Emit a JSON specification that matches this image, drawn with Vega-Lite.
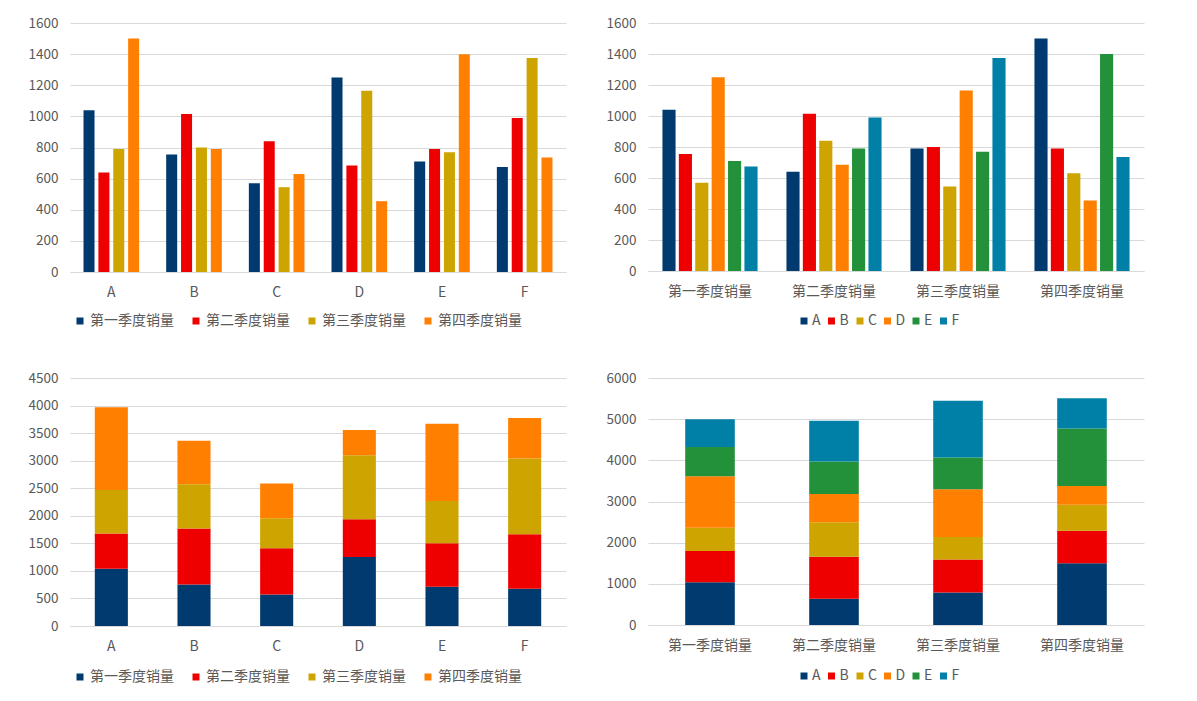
{
  "$schema": "https://vega.github.io/schema/vega-lite/v6.json",
  "background": "white",
  "padding": {"left": 28, "top": 16, "right": 20, "bottom": 10},
  "datasets": {
    "sales": [
      {"item": "A", "quarter": "第一季度销量", "sales": 1040},
      {"item": "A", "quarter": "第二季度销量", "sales": 640},
      {"item": "A", "quarter": "第三季度销量", "sales": 790},
      {"item": "A", "quarter": "第四季度销量", "sales": 1500},
      {"item": "B", "quarter": "第一季度销量", "sales": 755},
      {"item": "B", "quarter": "第二季度销量", "sales": 1015},
      {"item": "B", "quarter": "第三季度销量", "sales": 800},
      {"item": "B", "quarter": "第四季度销量", "sales": 790},
      {"item": "C", "quarter": "第一季度销量", "sales": 570},
      {"item": "C", "quarter": "第二季度销量", "sales": 840},
      {"item": "C", "quarter": "第三季度销量", "sales": 545},
      {"item": "C", "quarter": "第四季度销量", "sales": 630},
      {"item": "D", "quarter": "第一季度销量", "sales": 1250},
      {"item": "D", "quarter": "第二季度销量", "sales": 685},
      {"item": "D", "quarter": "第三季度销量", "sales": 1165},
      {"item": "D", "quarter": "第四季度销量", "sales": 455},
      {"item": "E", "quarter": "第一季度销量", "sales": 710},
      {"item": "E", "quarter": "第二季度销量", "sales": 790},
      {"item": "E", "quarter": "第三季度销量", "sales": 770},
      {"item": "E", "quarter": "第四季度销量", "sales": 1400},
      {"item": "F", "quarter": "第一季度销量", "sales": 675},
      {"item": "F", "quarter": "第二季度销量", "sales": 990},
      {"item": "F", "quarter": "第三季度销量", "sales": 1375},
      {"item": "F", "quarter": "第四季度销量", "sales": 735}
    ],
    "quarters": [
      {"quarter": "第一季度销量", "qn": 1},
      {"quarter": "第二季度销量", "qn": 2},
      {"quarter": "第三季度销量", "qn": 3},
      {"quarter": "第四季度销量", "qn": 4}
    ]
  },
  "columns": 2,
  "spacing": {"row": 106, "column": 82},
  "bounds": "flush",
  "concat": [
    {
      "width": 496,
      "height": 249,
      "data": {"name": "sales"},
      "mark": {"type": "bar"},
      "encoding": {
        "x": {"field": "item", "type": "nominal", "title": null, "scale": {"paddingInner": 0.327, "paddingOuter": 0.1635}},
        "xOffset": {"field": "quarter", "type": "nominal", "sort": ["第一季度销量", "第二季度销量", "第三季度销量", "第四季度销量"], "scale": {"paddingInner": 0.26, "paddingOuter": 0}},
        "y": {"field": "sales", "type": "quantitative", "title": null, "scale": {"domain": [0, 1600]}, "axis": {"format": "d", "values": [0, 200, 400, 600, 800, 1000, 1200, 1400, 1600]}},
        "color": {
          "field": "quarter", "type": "nominal",
          "scale": {"domain": ["第一季度销量", "第二季度销量", "第三季度销量", "第四季度销量"], "range": ["#003A6E", "#EE0000", "#CDA400", "#FF7F00"]},
          "legend": {"title": null, "orient": "none", "legendX": 3, "legendY": 291, "direction": "horizontal", "columns": 4, "columnPadding": 15, "labelOffset": 3}
        }
      }
    },
    {
      "width": 496,
      "height": 248,
      "data": {"name": "sales"},
      "mark": {"type": "bar"},
      "encoding": {
        "x": {"field": "quarter", "type": "nominal", "title": null, "sort": ["第一季度销量", "第二季度销量", "第三季度销量", "第四季度销量"], "scale": {"paddingInner": 0.233, "paddingOuter": 0.1165}},
        "xOffset": {"field": "item", "type": "nominal", "scale": {"paddingInner": 0.2, "paddingOuter": 0}},
        "y": {"field": "sales", "type": "quantitative", "title": null, "scale": {"domain": [0, 1600]}, "axis": {"format": "d", "values": [0, 200, 400, 600, 800, 1000, 1200, 1400, 1600]}},
        "color": {
          "field": "item", "type": "nominal",
          "scale": {"domain": ["A", "B", "C", "D", "E", "F"], "range": ["#003A6E", "#EE0000", "#CDA400", "#FF7F00", "#23913A", "#0080A6"]},
          "legend": {"title": null, "orient": "none", "legendX": 149, "legendY": 291, "direction": "horizontal", "columns": 6, "columnPadding": 3.5, "labelOffset": 1}
        }
      }
    },
    {
      "width": 496,
      "height": 248,
      "data": {"name": "sales"},
      "transform": [
        {"lookup": "quarter", "from": {"data": {"name": "quarters"}, "key": "quarter", "fields": ["qn"]}}
      ],
      "mark": {"type": "bar"},
      "encoding": {
        "x": {"field": "item", "type": "nominal", "title": null, "scale": {"paddingInner": 0.6, "paddingOuter": 0.3}},
        "y": {"field": "sales", "type": "quantitative", "title": null, "stack": "zero", "scale": {"domain": [0, 4500]}, "axis": {"format": "d", "values": [0, 500, 1000, 1500, 2000, 2500, 3000, 3500, 4000, 4500]}},
        "color": {
          "field": "quarter", "type": "nominal",
          "scale": {"domain": ["第一季度销量", "第二季度销量", "第三季度销量", "第四季度销量"], "range": ["#003A6E", "#EE0000", "#CDA400", "#FF7F00"]},
          "legend": {"title": null, "orient": "none", "legendX": 3, "legendY": 292, "direction": "horizontal", "columns": 4, "columnPadding": 15, "labelOffset": 3}
        },
        "order": {"field": "qn", "type": "quantitative", "sort": "ascending"}
      }
    },
    {
      "width": 496,
      "height": 247,
      "data": {"name": "sales"},
      "mark": {"type": "bar"},
      "encoding": {
        "x": {"field": "quarter", "type": "nominal", "title": null, "sort": ["第一季度销量", "第二季度销量", "第三季度销量", "第四季度销量"], "scale": {"paddingInner": 0.6, "paddingOuter": 0.3}},
        "y": {"field": "sales", "type": "quantitative", "title": null, "stack": "zero", "scale": {"domain": [0, 6000]}, "axis": {"format": "d", "values": [0, 1000, 2000, 3000, 4000, 5000, 6000]}},
        "color": {
          "field": "item", "type": "nominal",
          "scale": {"domain": ["A", "B", "C", "D", "E", "F"], "range": ["#003A6E", "#EE0000", "#CDA400", "#FF7F00", "#23913A", "#0080A6"]},
          "legend": {"title": null, "orient": "none", "legendX": 149, "legendY": 291, "direction": "horizontal", "columns": 6, "columnPadding": 3.5, "labelOffset": 1}
        },
        "order": {"field": "item", "type": "ordinal", "sort": "ascending"}
      }
    }
  ],
  "resolve": {
    "scale": {"x": "independent", "y": "independent", "color": "independent", "xOffset": "independent"},
    "legend": {"color": "independent"},
    "axis": {"x": "independent", "y": "independent"}
  },
  "config": {
    "font": "Noto Sans CJK SC",
    "view": {"stroke": null},
    "axis": {"labelColor": "#595959", "gridColor": "#D9D9D9", "gridWidth": 1.2, "domainColor": "#D9D9D9", "domainWidth": 1.2, "ticks": false, "tickSize": 0, "labelFont": "Noto Sans CJK SC"},
    "axisX": {"labelAngle": 0, "labelFontSize": 14, "labelPadding": 13.5, "grid": false, "domain": true},
    "axisY": {"labelFontSize": 13.5, "labelPadding": 12, "domain": false, "grid": true},
    "legend": {"symbolType": "square", "symbolSize": 49, "symbolStrokeWidth": 0, "labelFontSize": 14, "labelColor": "#595959", "labelFont": "Noto Sans CJK SC"}
  }
}
